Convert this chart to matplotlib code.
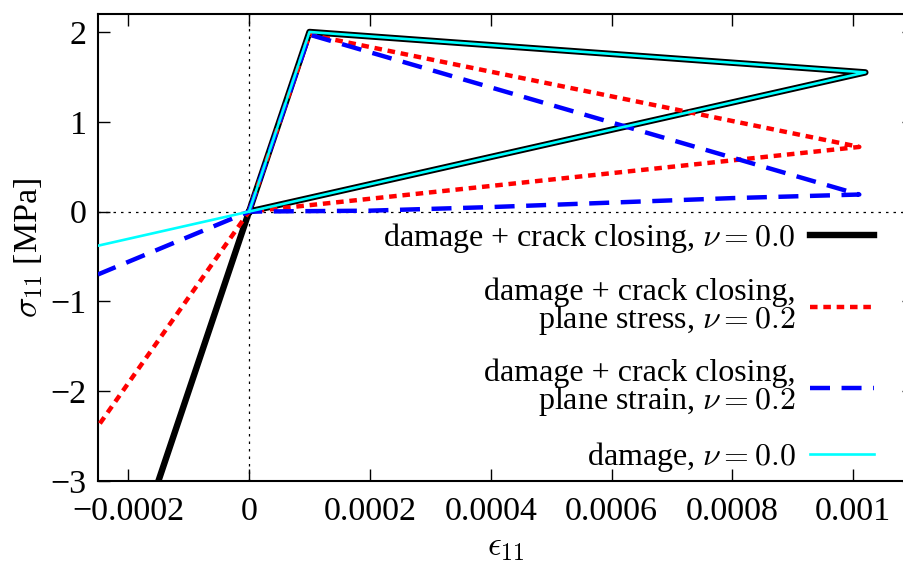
import matplotlib.pyplot as plt
import numpy as np

plt.rcParams['font.family'] = ['Liberation Serif', 'DejaVu Serif']
plt.rcParams['mathtext.fontset'] = 'cm'
plt.rcParams['axes.unicode_minus'] = True

# strain / stress paths (MPa)
eps_cc = [0.0, 0.0001, 0.00102, 0.0, -0.00015]
sig_cc = [0.0, 2.0, 1.55, 0.0, -3.0]

eps_ps = [0.0, 0.0001, 0.00101, 0.0, -0.00025]
sig_ps = [0.0, 1.97, 0.72, 0.0, -2.39]

eps_pe = [0.0, 0.0001, 0.00101, 0.0008, 0.0006, 0.0004, 0.0002, 0.0, -0.00025]
sig_pe = [0.0, 1.97, 0.19, 0.15, 0.10, 0.05, 0.01, 0.0, -0.70]

eps_dm = [0.0, 0.0001, 0.00102, 0.0, -0.00025]
sig_dm = [0.0, 2.0, 1.55, 0.0, -0.38]

labels = [r'damage + crack closing, $\nu = 0.0$',
          'damage + crack closing,\n' + r'plane stress, $\nu = 0.2$',
          'damage + crack closing,\n' + r'plane strain, $\nu = 0.2$',
          r'damage, $\nu = 0.0$']

xticks = [-0.0002, 0, 0.0002, 0.0004, 0.0006, 0.0008, 0.001]
xtick_labels = ['\u22120.0002', '0', '0.0002', '0.0004', '0.0006', '0.0008', '0.001']
yticks = [-3, -2, -1, 0, 1, 2]
ytick_labels = ['\u22123', '\u22122', '\u22121', '0', '1', '2']

fs = 24.5
fs_leg = 23

fig = plt.figure(figsize=(9.04, 5.65), dpi=100)
ax = fig.add_axes([0.1084, 0.1487, 0.9023, 0.8265])

ax.axhline(0, color='black', lw=0.9, ls=(0, (2, 4)), zorder=1)
ax.axvline(0, color='black', lw=0.9, ls=(0, (2, 4)), zorder=1)

ax.plot(eps_cc, sig_cc, color='black', lw=4.6, label=labels[0], zorder=2)
ax.plot(eps_ps, sig_ps, color='red', lw=3.2, ls=(0, (1.7, 1.3)), label=labels[1], zorder=3)
ax.plot(eps_pe, sig_pe, color='blue', lw=3.2, ls=(0, (4.5, 2.6)), label=labels[2], zorder=4)
ax.plot(eps_dm, sig_dm, color='cyan', lw=1.9, label=labels[3], zorder=5)

ax.set_xlim(-0.00025, 0.0011)
ax.set_ylim(-3, 2.2)
ax.set_xticks(xticks)
ax.set_xticklabels(xtick_labels)
ax.set_yticks(yticks)
ax.set_yticklabels(ytick_labels)
ax.tick_params(direction='in', length=8.5, width=1.0, labelsize=fs,
               top=True, right=True)
ax.tick_params(axis='x', pad=11)
ax.tick_params(axis='y', pad=8)
for s in ax.spines.values():
    s.set_linewidth(1.5)

ax.set_xlabel(r'$\epsilon_{11}$', fontsize=fs, labelpad=4)
ax.set_ylabel(r'$\sigma_{11}$ [MPa]', fontsize=fs, labelpad=4)

leg = ax.legend(loc='lower right', bbox_to_anchor=(0.967, -0.012),
                frameon=False, markerfirst=False, fontsize=fs_leg,
                handlelength=2.0, handletextpad=0.45, labelspacing=0.68,
                borderaxespad=0.0)
for t in leg.get_texts():
    t.set_multialignment('right')
    t.set_linespacing(0.88)

fig.savefig('out.png', dpi=100)
